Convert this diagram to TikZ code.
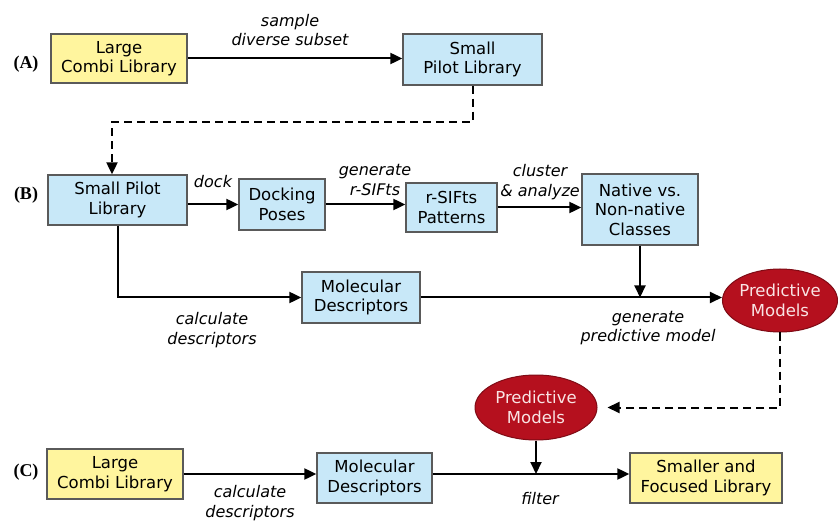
\documentclass[tikz,border=0pt]{standalone}
\usepackage{fontspec}
\setmainfont{DejaVu Sans}
\newfontfamily\tagfont{Liberation Serif}
\usepackage{xcolor,tikz}
\usetikzlibrary{arrows.meta,shapes.geometric}
\definecolor{combi}{HTML}{FFF59E}
\definecolor{pilot}{HTML}{C8E8F8}
\definecolor{model}{HTML}{B5101E}
\definecolor{modeltxt}{HTML}{F9E4E4}
\definecolor{edge}{HTML}{5A5A5A}

\begin{document}
\begin{tikzpicture}[x=1pt,y=-1pt,
  txt/.style={font=\fontsize{16.5}{19.5}\selectfont,align=center},
  yel/.style={txt,draw=edge,line width=1.3pt,fill=combi,inner sep=0pt},
  blu/.style={txt,draw=edge,line width=1.3pt,fill=pilot,inner sep=0pt},
  red/.style={txt,ellipse,draw=model!70!black,line width=1pt,fill=model,text=modeltxt,inner sep=0pt},
  lbl/.style={font=\fontsize{16}{19.5}\selectfont\itshape,align=center},
  tag/.style={font=\tagfont\bfseries\fontsize{18}{20}\selectfont},
  flow/.style={line width=2pt,-{Triangle[length=12pt,width=11pt]}},
  feed/.style={flow,dash pattern=on 8pt off 5pt}]
  \useasboundingbox (0,0) rectangle (838,521);
  % row labels
  \foreach \y/\t in {64/A,195/B,472/C}
    \node[tag] (tag\t) at (26,\y) {(\t)};
  % (A) sampling
  \node[yel,minimum width=136,minimum height=49] (combiA) at (119,58.5) {Large\\Combi Library};
  \node[blu,minimum width=139,minimum height=51] (pilotA) at (472.5,59.5) {Small\\Pilot Library};
  \node[lbl] (lsample) at (290,30) {sample\\diverse subset};
  \draw[flow] (combiA.east) -- (combiA.east -| pilotA.west);
  % (B) model building
  \node[blu,minimum width=139,minimum height=50] (pilotB) at (117.5,200) {Small Pilot\\Library};
  \node[blu,minimum width=86,minimum height=51] (poses) at (282,204.5) {Docking\\Poses};
  \node[blu,minimum width=91,minimum height=49] (sifts) at (451.5,207.5) {r-SIFts\\Patterns};
  \node[blu,minimum width=116,minimum height=71] (native) at (640,209.5) {Native vs.\\Non-native\\Classes};
  \node[blu,minimum width=118,minimum height=51] (descB) at (361,297.5) {Molecular\\Descriptors};
  \node[red,minimum width=112,minimum height=63] (modelB) at (780,300.5) {Predictive\\Models};
  \node[lbl] (ldock) at (213,182) {dock};
  \node[lbl] (lsift) at (375,180) {generate\\r-SIFts};
  \node[lbl] (lclust) at (540,182) {cluster\\\& analyze};
  \node[lbl] (lcalcB) at (212,330) {calculate\\descriptors};
  \node[lbl] (lgen) at (648,328) {generate\\predictive model};
  \coordinate (turnA) at (112,122);
  \draw[feed] (pilotA.south) |- (turnA) -- (turnA |- pilotB.north);
  \draw[flow] (poses.west -| pilotB.east) -- (poses.west);
  \draw[flow] (poses.east) -- (poses.east -| sifts.west);
  \draw[flow] (sifts.east) -- (sifts.east -| native.west);
  \draw[flow] (pilotB.south) |- (descB.west);
  \draw[flow] (descB.east) -- (descB.east -| modelB.west);
  \draw[flow] (native.south) -- (native.south |- descB.east);
  % (C) filtering
  \node[red,minimum width=122,minimum height=65] (modelC) at (536,407.5) {Predictive\\Models};
  \node[yel,minimum width=136,minimum height=50] (combiC) at (115,474) {Large\\Combi Library};
  \node[blu,minimum width=115,minimum height=50] (descC) at (374.5,478) {Molecular\\Descriptors};
  \node[yel,minimum width=152,minimum height=50] (focus) at (706,478) {Smaller and\\Focused Library};
  \node[lbl] (lcalcC) at (250,503) {calculate\\descriptors};
  \node[lbl] (lfilter) at (540,499) {filter};
  \draw[feed] (modelB.south) |- ([xshift=10]modelC.east);
  \draw[flow] (combiC.east) -- (combiC.east -| descC.west);
  \draw[flow] (descC.east |- combiC.east) -- (focus.west |- combiC.east);
  \draw[flow] (modelC.south) -- (modelC.south |- combiC.east);
\end{tikzpicture}
\end{document}
